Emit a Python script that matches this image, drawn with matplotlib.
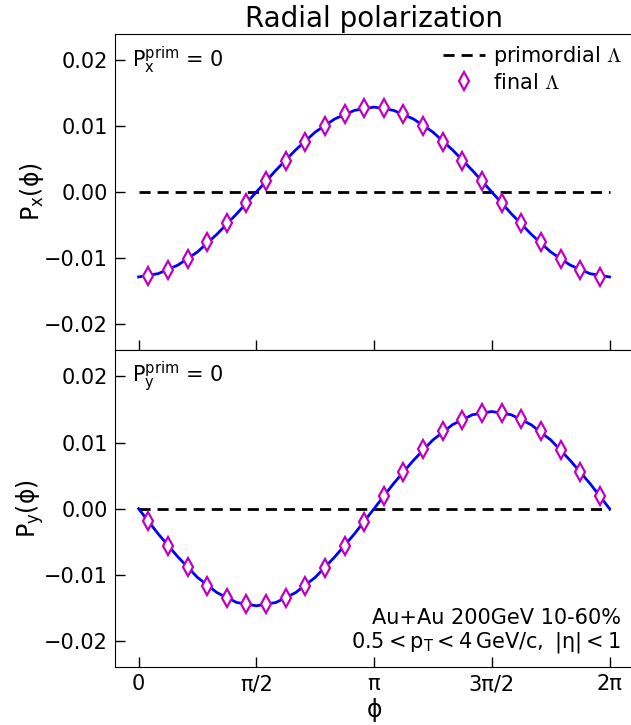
import numpy as np
import matplotlib.pyplot as plt
from matplotlib.font_manager import FontProperties

# marker positions (units of pi)
phi_pts = np.array([0.042, 0.125, 0.208, 0.292, 0.375, 0.458, 0.542, 0.625,
                    0.708, 0.792, 0.875, 0.958, 1.042, 1.125, 1.208, 1.292,
                    1.375, 1.458, 1.542, 1.625, 1.708, 1.792, 1.875, 1.958])

px_final = [-0.0128, -0.0118, -0.0101, -0.0076, -0.0047, -0.0017, 0.0016, 0.0047,
            0.0076, 0.0101, 0.0119, 0.0128, 0.0128, 0.0118, 0.0101, 0.0076,
            0.0047, 0.0016, -0.0016, -0.0047, -0.0076, -0.0101, -0.0119, -0.0129]

py_final = [-0.0019, -0.0057, -0.0089, -0.0117, -0.0135, -0.0145, -0.0145, -0.0135,
            -0.0117, -0.0090, -0.0057, -0.0020, 0.0019, 0.0056, 0.0090, 0.0117,
            0.0134, 0.0144, 0.0144, 0.0135, 0.0117, 0.0089, 0.0056, 0.0019]

# solid curve (units of pi)
phi_curve = np.array([0, 0.083, 0.167, 0.25, 0.333, 0.417, 0.5, 0.583, 0.667,
                      0.75, 0.833, 0.917, 1.0, 1.083, 1.167, 1.25, 1.333, 1.417,
                      1.5, 1.583, 1.667, 1.75, 1.833, 1.917, 2.0])

px_curve = [-0.0129, -0.0124, -0.0111, -0.0091, -0.0064, -0.0033, 0.0, 0.0033, 0.0064,
            0.0091, 0.0111, 0.0124, 0.0129, 0.0124, 0.0111, 0.0091, 0.0064, 0.0033,
            0.0, -0.0033, -0.0064, -0.0091, -0.0111, -0.0124, -0.0129]

py_curve = [0.0, -0.0038, -0.0073, -0.0104, -0.0127, -0.0142, -0.0147, -0.0142, -0.0127,
            -0.0104, -0.0073, -0.0038, 0.0, 0.0038, 0.0073, 0.0104, 0.0127, 0.0142,
            0.0147, 0.0142, 0.0127, 0.0104, 0.0073, 0.0038, 0.0]

xticks = [0, 0.5, 1, 1.5, 2]
xticklabels = ['0', 'π/2', 'π', '3π/2', '2π']

fig = plt.figure(figsize=(6.31, 7.25), dpi=100)
ax1 = fig.add_axes([0.1823, 0.5172, 0.821, 0.4359])
ax2 = fig.add_axes([0.1823, 0.0796, 0.821, 0.4376], sharex=ax1)

panels = [(ax1, px_curve, px_final, r'$\mathrm{P_x(\phi)}$', r'$\mathrm{P_x^{prim}}$ = 0'),
          (ax2, py_curve, py_final, r'$\mathrm{P_y(\phi)}$', r'$\mathrm{P_y^{prim}}$ = 0')]

for ax, curve, pts, ylab, note in panels:
    ax.plot(phi_curve * np.pi, curve, color='blue', lw=2, zorder=2)
    ax.plot([0, 2 * np.pi], [0, 0], color='black', ls='--', lw=2, dashes=(4, 2.5),
            label=r'primordial $\Lambda$', zorder=1)
    ax.plot(phi_pts * np.pi, pts, ls='none', marker='d', ms=9, mfc='white',
            mec='#bf00bf', mew=1.6, label=r'final $\Lambda$', zorder=3)
    ax.set_xlim(-0.1 * np.pi, 2.1 * np.pi)
    ax.set_ylim(-0.024, 0.024)
    ax.set_yticks([-0.02, -0.01, 0.0, 0.01, 0.02])
    ax.set_ylabel(ylab, fontsize=17, labelpad=-1)
    ax.tick_params(direction='in', length=7, width=1, labelsize=15, pad=5)
    ax.text(0.033, 0.915, note, transform=ax.transAxes, fontsize=15, va='center')

ax1.tick_params(axis='x', labelbottom=False)
ax2.set_xticks(np.array(xticks) * np.pi)
ax2.set_xticklabels(xticklabels)
ax2.set_xlabel(r'$\mathrm{\phi}$', fontsize=17, labelpad=1)

ax1.set_title('Radial polarization', fontsize=20, pad=5)

leg_font = FontProperties(size=15, math_fontfamily='cm')
ax1.legend(loc='upper right', frameon=False, prop=leg_font, handlelength=2.0,
           handletextpad=0.4, labelspacing=0.2, borderaxespad=0.2, borderpad=0.3)

ax2.text(0.977, 0.156, 'Au+Au 200GeV 10-60%', transform=ax2.transAxes,
         fontsize=15, ha='right', va='center')
ax2.text(0.977, 0.077, r'$\mathrm{0.5 < p_T < 4\,GeV/c,\ |\eta| < 1}$',
         transform=ax2.transAxes, fontsize=15, ha='right', va='center')

fig.savefig('out.png', dpi=100)
